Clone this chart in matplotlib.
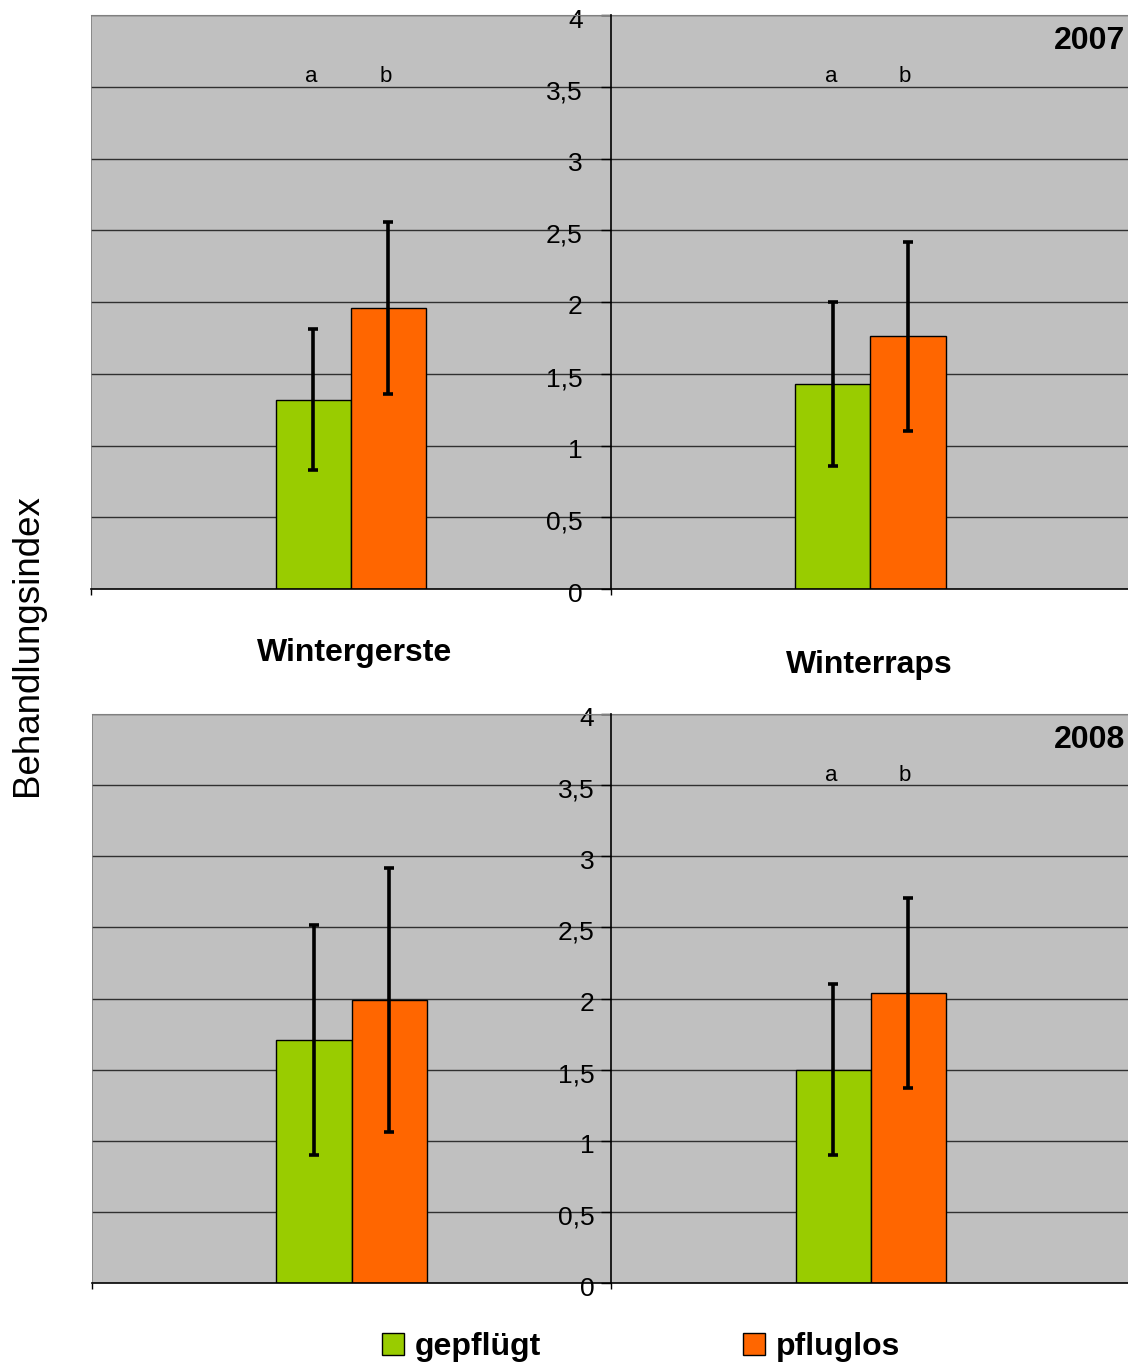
import matplotlib
matplotlib.use("Agg")
import matplotlib.pyplot as plt
import matplotlib.transforms as mtransforms
import numpy as np

# ---- data ----
categories = ['Wintergerste', 'Winterraps']
series_names = ['gepflügt', 'pfluglos']
gepfluegt_2007 = [1.32, 1.43]
gepfluegt_2007_err = [0.49, 0.57]
pfluglos_2007 = [1.96, 1.76]
pfluglos_2007_err = [0.60, 0.66]
gepfluegt_2008 = [1.71, 1.50]
gepfluegt_2008_err = [0.81, 0.60]
pfluglos_2008 = [1.99, 2.04]
pfluglos_2008_err = [0.93, 0.67]
letters_2007 = [('a', 'b'), ('a', 'b')]
letters_2008 = [None, ('a', 'b')]
yticks = [0, 0.5, 1, 1.5, 2, 2.5, 3, 3.5, 4]
ytick_labels = ['0', '0,5', '1', '1,5', '2', '2,5', '3', '3,5', '4']

plt.rcParams['font.family'] = ['Liberation Sans', 'DejaVu Sans']

W, H = 1128, 1363
fig = plt.figure(figsize=(W / 100, H / 100), dpi=100)

GREEN = '#99CC00'
ORANGE = '#FF6600'
BG = '#C0C0C0'


def fx(px):
    return px / W


def fy(py):
    return 1 - py / H


def panel(rect, g, ge, p, pe, letters, year, label_pad):
    ax = fig.add_axes(rect)
    ax.set_facecolor(BG)
    x = np.arange(len(categories))
    w = 0.1446
    for yv in yticks[1:]:
        ax.axhline(yv, color='#303030', lw=1.0, zorder=1)
    bg = ax.bar(x - w / 2, g, w, color=GREEN, edgecolor='black', lw=1.0, zorder=2, label=series_names[0])
    bp = ax.bar(x + w / 2, p, w, color=ORANGE, edgecolor='black', lw=1.0, zorder=2, label=series_names[1])
    ax.errorbar(x - w / 2, g, yerr=ge, fmt='none', ecolor='black', elinewidth=2.6,
                capsize=3.5, capthick=2.6, zorder=3)
    ax.errorbar(x + w / 2, p, yerr=pe, fmt='none', ecolor='black', elinewidth=2.6,
                capsize=3.5, capthick=2.6, zorder=3)
    for i, lt in enumerate(letters):
        if lt is None:
            continue
        ax.text(x[i] - w / 2 - 0.004, 3.53, lt[0], ha='center', va='baseline', fontsize=16, zorder=4)
        ax.text(x[i] + w / 2 - 0.006, 3.53, lt[1], ha='center', va='baseline', fontsize=16, zorder=4)
    ax.set_xlim(-0.5, 1.5)
    ax.set_ylim(0, 4)
    ax.set_xticks([-0.5, 0.5, 1.5])
    ax.set_xticklabels([])
    ax.tick_params(axis='x', direction='out', length=4, width=1, colors='black')
    ax.spines['left'].set_position(('data', 0.5))
    ax.spines['left'].set_color('black')
    ax.spines['left'].set_linewidth(1.2)
    ax.spines['left'].set_zorder(5)
    ax.spines['right'].set_visible(False)
    ax.spines['top'].set_color('#808080')
    ax.spines['bottom'].set_color('black')
    ax.spines['bottom'].set_linewidth(1.2)
    ax.axvline(-0.5, color='#808080', lw=1.2, zorder=1)
    ax.set_yticks(yticks)
    ax.set_yticklabels(ytick_labels)
    ax.tick_params(axis='y', direction='out', length=7, width=1, labelsize=19, pad=label_pad)
    shift = mtransforms.ScaledTranslation(0, -3 / 100, fig.dpi_scale_trans)
    for lab in ax.get_yticklabels():
        lab.set_transform(lab.get_transform() + shift)
    ax.text(0.995, 0.955, year, transform=ax.transAxes, ha='right', va='center',
            fontsize=23, fontweight='bold', zorder=6)
    return ax, bg, bp


ax1, h1, h2 = panel([fx(91), fy(589), fx(1128) - fx(91) + 0.002, fy(15) - fy(589)],
                    gepfluegt_2007, gepfluegt_2007_err, pfluglos_2007, pfluglos_2007_err,
                    letters_2007, '2007', 13)
ax2, _, _ = panel([fx(92), fy(1283), fx(1128) - fx(92) + 0.002, fy(714) - fy(1283)],
                  gepfluegt_2008, gepfluegt_2008_err, pfluglos_2008, pfluglos_2008_err,
                  letters_2008, '2008', 5)

fig.text(fx(355), fy(653), categories[0], ha='center', va='center', fontsize=23, fontweight='bold')
fig.text(fx(869), fy(665), categories[1], ha='center', va='center', fontsize=23, fontweight='bold')
fig.text(fx(28), fy(645), 'Behandlungsindex', rotation=90, ha='center', va='center', fontsize=26.5)

leg = fig.legend(handles=[h1, h2], labels=series_names, loc='center', ncol=2,
                 bbox_to_anchor=(fx(641), fy(1347)), frameon=False,
                 prop={'size': 23, 'weight': 'bold'}, handlelength=0.7, handleheight=0.7,
                 handletextpad=0.35, columnspacing=6.3, borderpad=0)

fig.savefig('out.png', dpi=100)
